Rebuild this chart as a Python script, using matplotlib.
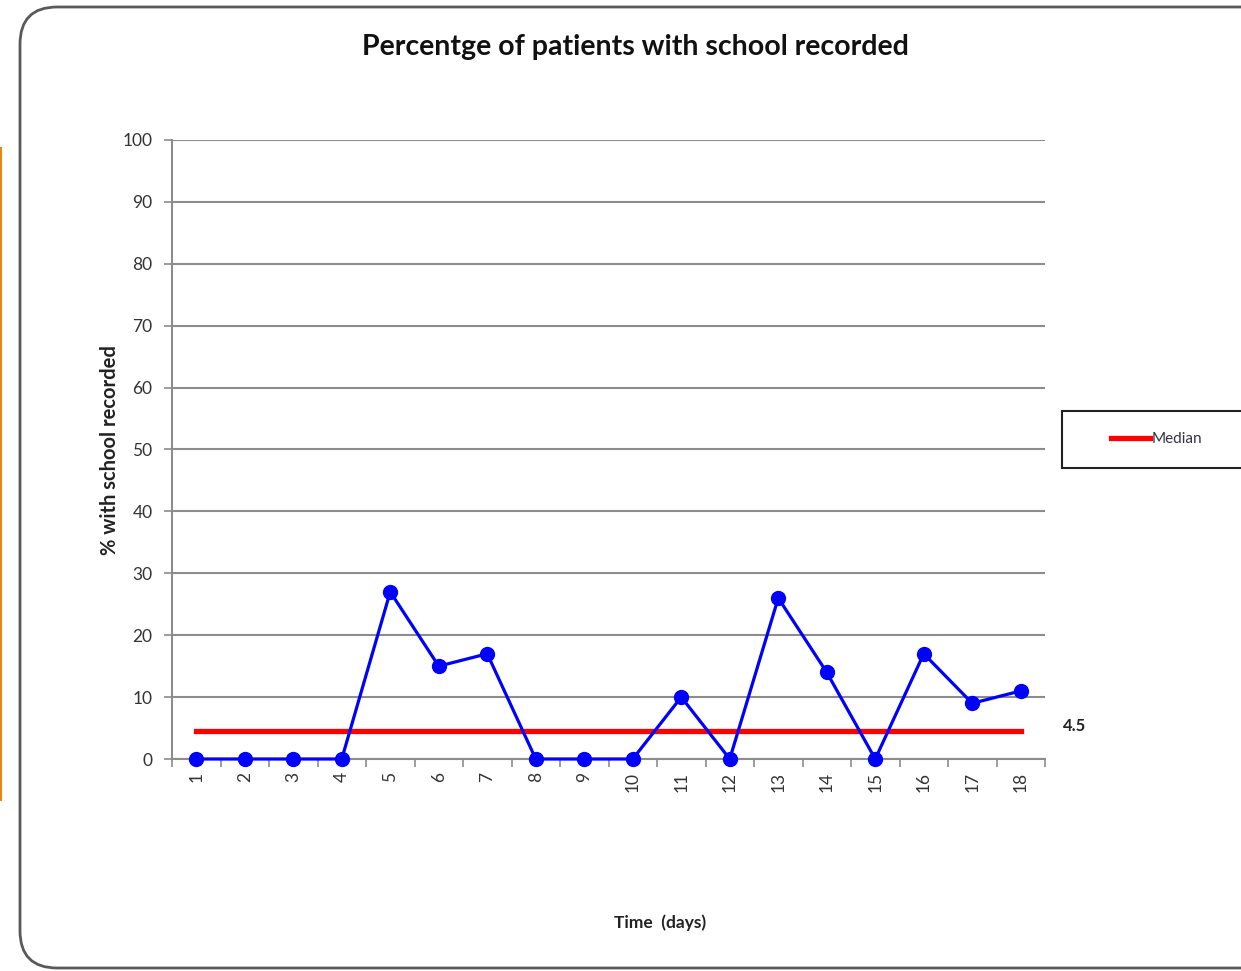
import numpy as np
import matplotlib.pyplot as plt
from matplotlib.patches import FancyBboxPatch, Rectangle
from matplotlib.lines import Line2D

plt.rcParams['font.family'] = ['Lato', 'DejaVu Sans']

# daily share of patients with school recorded
days = list(range(1, 19))
percent = [0, 0, 0, 0, 27, 15, 17, 0, 0, 0, 10, 0, 26, 14, 0, 17, 9, 11]
median_value = 4.5

W, H = 1241, 971
fig = plt.figure(figsize=(W / 100, H / 100), dpi=100)

# rounded chart frame, runs off the right edge
frame = FancyBboxPatch((20 / W, 3 / H), 1.2, 961 / H,
                       boxstyle="round,pad=0,rounding_size=0.03",
                       transform=fig.transFigure, facecolor='white',
                       edgecolor='#5a5a5a', linewidth=2, mutation_aspect=W / H,
                       zorder=-2)
fig.add_artist(frame)
fig.add_artist(Line2D([1 / W, 1 / W], [1 - 148 / H, 1 - 800 / H],
                      color='#e08a12', linewidth=1.5, transform=fig.transFigure))

ax = fig.add_axes([172 / W, 1 - 759 / H, 873 / W, 619 / H])
ax.set_facecolor('none')

ax.plot(days, percent, color='#0000ff', linewidth=2.3, marker='o',
        markersize=10, zorder=3, clip_on=False)
ax.plot(days, [median_value] * len(days), color='#ff0000', linewidth=3.8,
        zorder=2, label='Median')

ax.set_xlim(0.5, 18.5)
ax.set_ylim(0, 100)
ax.set_yticks(np.arange(0, 101, 10))
ax.yaxis.grid(True, color='#8c8c8c', linewidth=1.5)
ax.set_axisbelow(True)

# ticks between categories, labels at category centres
ax.set_xticks(np.arange(0.5, 19, 1))
ax.set_xticklabels([])
ax.set_xticks(days, minor=True)
ax.set_xticklabels([str(d) for d in days], minor=True, rotation=90)
ax.tick_params(axis='x', which='minor', length=0, pad=9, labelsize=12.5, labelcolor='#333333')
ax.tick_params(axis='x', which='major', length=6, width=1.2, color='#8c8c8c', direction='out')
ax.tick_params(axis='y', length=6, width=1.2, color='#8c8c8c', labelsize=12.5,
               labelcolor='#333333', pad=8)

for side in ['top', 'right']:
    ax.spines[side].set_visible(False)
for side in ['left', 'bottom']:
    ax.spines[side].set_color('#8c8c8c')
    ax.spines[side].set_linewidth(1.5)

ax.text(18.88, 5.3, str(median_value), fontsize=12, fontweight='bold',
        va='center', ha='left', color='#222222')

fig.text(635 / W, 1 - 47 / H, 'Percentge of patients with school recorded',
         fontsize=20.5, fontweight='bold', ha='center', va='center', color='#111111')
fig.text(110 / W, 1 - 450 / H, '% with school recorded', fontsize=14.5,
         fontweight='bold', rotation=90, ha='center', va='center', color='#222222')
fig.text(660 / W, 1 - 923 / H, 'Time  (days)', fontsize=12.5, fontweight='bold',
         ha='center', va='center', color='#222222')

# legend box
fig.add_artist(Rectangle((1062 / W, 1 - 468 / H), 0.2, 57 / H, transform=fig.transFigure,
                         facecolor='white', edgecolor='#222222', linewidth=1.5, zorder=1))
fig.legend(handles=ax.get_lines()[1:], labels=['Median'], loc='center left',
           bbox_to_anchor=(1097 / W, 1 - 439 / H), frameon=False, fontsize=11,
           handlelength=2.6, handletextpad=0.1, labelcolor='#333344')

fig.savefig('out.png', dpi=100)
